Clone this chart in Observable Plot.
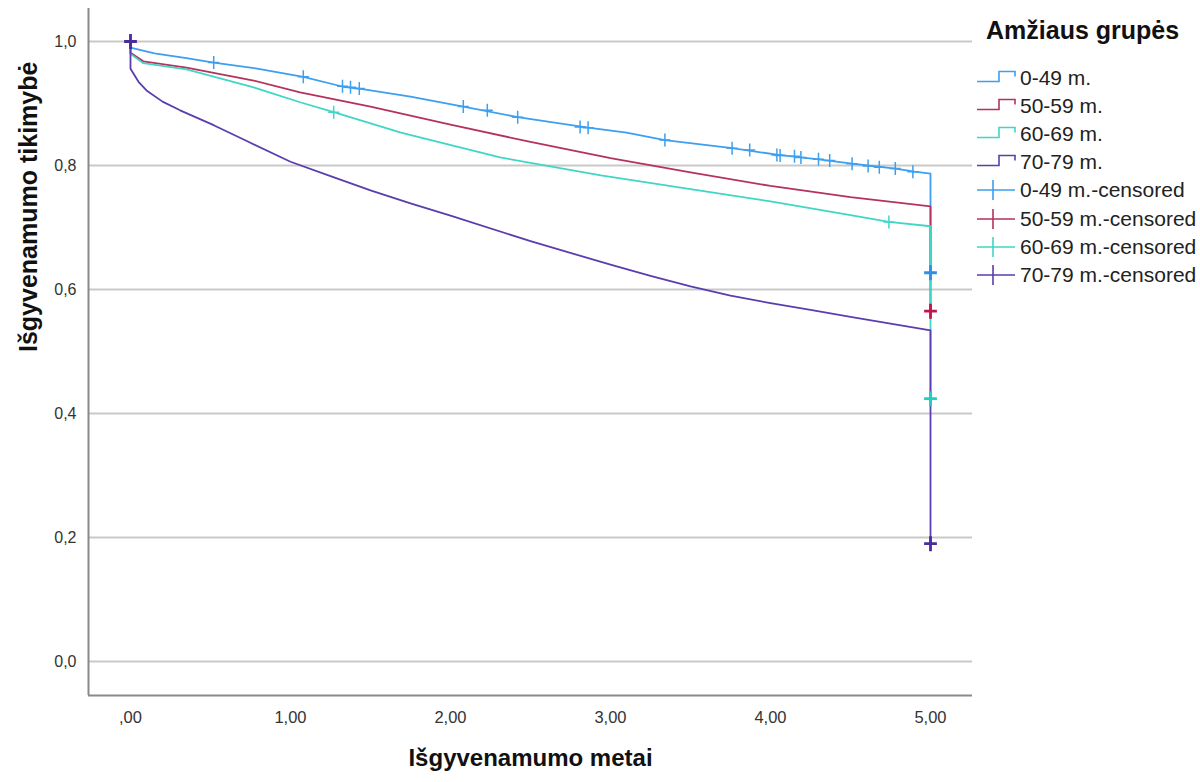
<!DOCTYPE html>
<html>
<head>
<meta charset="utf-8">
<script src="https://cdn.jsdelivr.net/npm/d3@7"></script>
<script src="https://cdn.jsdelivr.net/npm/@observablehq/plot@0.6"></script>
<style>
  html, body { margin: 0; padding: 0; background: #fff; }
  body { width: 1200px; height: 782px; position: relative; overflow: hidden; font-family: "Liberation Sans", Arial, sans-serif; }
  #chart { position: absolute; left: 0; top: 0; }
  #legend { position: absolute; left: 977px; top: 12px; color: #111; }
  #legend .title { font-weight: bold; font-size: 25px; margin-left: 9px; height: 52px; line-height: 36px; }
  #legend .item { height: 28.1px; display: flex; align-items: center; font-size: 21px; color: #222; white-space: nowrap; }
  #legend svg { width: 43px; height: 28px; flex: none; }
</style>
</head>
<body>
<div id="chart"></div>
<div id="legend"></div>
<script>
// ---- Data ----
const groups = ["0-49 m.", "50-59 m.", "60-69 m.", "70-79 m."];
const groupColors = ["#3c9ff0", "#b5325f", "#40d6c6", "#5a3dae"];
const endColors = ["#2f8fe8", "#c0164c", "#1fd0c0", "#4a2c9c"];

const t0049 = [0, 0, 0.15, 0.35, 0.52, 0.8, 1.08, 1.33, 1.45, 1.75, 2.08, 2.42, 2.86, 3.1, 3.34, 3.76, 4.05, 4.3, 4.51, 4.78, 4.9, 5.0, 5.0];
const s0049 = [1, 0.99, 0.981, 0.973, 0.966, 0.956, 0.943, 0.927, 0.923, 0.911, 0.895, 0.878, 0.861, 0.853, 0.841, 0.828, 0.817, 0.81, 0.803, 0.795, 0.79, 0.787, 0.627];

const t5059 = [0, 0, 0.08, 0.35, 0.77, 1.06, 1.5, 2.0, 2.5, 3.0, 3.5, 4.0, 4.5, 5.0, 5.0];
const s5059 = [1, 0.982, 0.968, 0.958, 0.937, 0.918, 0.895, 0.866, 0.838, 0.812, 0.789, 0.767, 0.749, 0.734, 0.565];

const t6069 = [0, 0, 0.08, 0.35, 0.77, 1.06, 1.27, 1.69, 2.31, 2.94, 3.5, 4.0, 4.5, 4.74, 5.0, 5.0];
const s6069 = [1, 0.98, 0.965, 0.955, 0.926, 0.902, 0.886, 0.853, 0.813, 0.784, 0.762, 0.742, 0.72, 0.709, 0.702, 0.424];

const t7079 = [0, 0, 0.05, 0.1, 0.2, 0.31, 0.52, 0.73, 1.0, 1.25, 1.5, 1.75, 2.0, 2.5, 3.0, 3.25, 3.5, 3.75, 4.0, 4.25, 4.5, 4.75, 5.0, 5.0];
const s7079 = [1, 0.956, 0.935, 0.921, 0.903, 0.889, 0.865, 0.839, 0.806, 0.783, 0.76, 0.739, 0.719, 0.678, 0.64, 0.622, 0.605, 0.59, 0.578, 0.567, 0.556, 0.545, 0.534, 0.19];

// censored observations along the curves (small crosses)
const censT0049 = [0.52, 1.08, 1.325, 1.375, 1.43, 2.08, 2.23, 2.42, 2.81, 2.86, 3.34, 3.76, 3.87, 4.04, 4.06, 4.15, 4.19, 4.30, 4.37, 4.51, 4.61, 4.68, 4.78, 4.89];
const censS0049 = [0.966, 0.943, 0.928, 0.926, 0.924, 0.895, 0.889, 0.878, 0.862, 0.861, 0.841, 0.828, 0.825, 0.817, 0.816, 0.815, 0.813, 0.81, 0.808, 0.803, 0.799, 0.797, 0.795, 0.79];
const censT6069 = [1.27, 4.74];
const censS6069 = [0.886, 0.709];

// censored at the end of follow-up (bold crosses)
const endGroup = ["70-79 m.", "0-49 m.", "50-59 m.", "60-69 m.", "70-79 m."];
const endT = [0, 5, 5, 5, 5];
const endS = [1.0, 0.627, 0.565, 0.424, 0.19];

const xTicks = [0, 1, 2, 3, 4, 5];
const yTicks = [0, 0.2, 0.4, 0.6, 0.8, 1.0];
const xTickLabels = [",00", "1,00", "2,00", "3,00", "4,00", "5,00"];
const yTickLabels = ["0,0", "0,2", "0,4", "0,6", "0,8", "1,0"];
const xTitle = "Išgyvenamumo metai";
const yTitle = "Išgyvenamumo tikimybė";
const legendTitle = "Amžiaus grupės";

// ---- Build tables ----
const series = [[t0049, s0049], [t5059, s5059], [t6069, s6069], [t7079, s7079]];
const curveRows = [];
series.forEach(([ts, ss], gi) => ts.forEach((t, i) => curveRows.push({group: groups[gi], t, s: ss[i]})));
const censRows = [];
censT0049.forEach((t, i) => censRows.push({group: groups[0], t, s: censS0049[i]}));
censT6069.forEach((t, i) => censRows.push({group: groups[2], t, s: censS6069[i]}));
const endRows = endT.map((t, i) => ({group: endGroup[i], t, s: endS[i]}));

const colorOf = Object.fromEntries(groups.map((g, i) => [g, groupColors[i]]));
const endColorOf = Object.fromEntries(groups.map((g, i) => [g, endColors[i]]));

const crossSymbol = {
  draw(ctx, size) {
    const r = Math.sqrt(size / Math.PI);
    ctx.moveTo(-r * 0.85, 0); ctx.lineTo(r * 0.85, 0);
    ctx.moveTo(0, -r); ctx.lineTo(0, r);
  }
};

const xDomain = [-0.2625, 5.2625];
const yDomain = [-0.0548, 1.0532];

const chart = Plot.plot({
  width: 1200,
  height: 782,
  marginLeft: 88,
  marginRight: 228,
  marginTop: 8,
  marginBottom: 87,
  style: {fontFamily: "'Liberation Sans', Arial, sans-serif", background: "#fff"},
  x: {domain: xDomain},
  y: {domain: yDomain},
  marks: [
    Plot.ruleY(yTicks, {stroke: "#c9c9c9", strokeWidth: 2}),
    Plot.ruleX([xDomain[0]], {stroke: "#8a8a8a", strokeWidth: 2}),
    Plot.ruleY([yDomain[0]], {stroke: "#8a8a8a", strokeWidth: 2}),
    Plot.axisY({ticks: yTicks, tickSize: 0, tickPadding: 12, tickFormat: (d) => yTickLabels[yTicks.indexOf(d)], fontSize: 16, fill: "#333", label: null}),
    Plot.axisX({ticks: xTicks, tickSize: 0, tickPadding: 16, tickFormat: (d) => xTickLabels[xTicks.indexOf(d)], fontSize: 16.5, fill: "#333", label: null}),
    ...groups.map((g) => Plot.line(curveRows.filter((d) => d.group === g), {x: "t", y: "s", stroke: colorOf[g], strokeWidth: 1.8, curve: "linear"})),
    Plot.dot(censRows, {x: "t", y: "s", symbol: crossSymbol, r: 6.5, fill: "none", stroke: (d) => colorOf[d.group], strokeWidth: 1.5}),
    Plot.dot(endRows, {x: "t", y: "s", symbol: crossSymbol, r: 7.5, fill: "none", stroke: (d) => endColorOf[d.group], strokeWidth: 2.8}),
    Plot.text([xTitle], {frameAnchor: "bottom", dy: 70, text: (d) => d, fontSize: 24, fontWeight: "bold", fill: "#111"}),
    Plot.text([yTitle], {frameAnchor: "left", dx: -60, rotate: -90, text: (d) => d, fontSize: 25, fontWeight: "bold", fill: "#111"})
  ]
});
document.getElementById("chart").appendChild(chart);

// ---- Legend ----
const legend = document.getElementById("legend");
const title = document.createElement("div");
title.className = "title";
title.textContent = legendTitle;
legend.appendChild(title);
groups.forEach((g, i) => {
  const row = document.createElement("div");
  row.className = "item";
  row.innerHTML = `<svg viewBox="0 0 43 28"><path d="M0,17.5H22V7.5H38V12.5" fill="none" stroke="${groupColors[i]}" stroke-width="1.6"/></svg><span>${g}</span>`;
  legend.appendChild(row);
});
groups.forEach((g, i) => {
  const row = document.createElement("div");
  row.className = "item";
  row.innerHTML = `<svg viewBox="0 0 43 28"><path d="M0,14H38M16,4V24" fill="none" stroke="${groupColors[i]}" stroke-width="1.6"/></svg><span>${g}-censored</span>`;
  legend.appendChild(row);
});
</script>
</body>
</html>
